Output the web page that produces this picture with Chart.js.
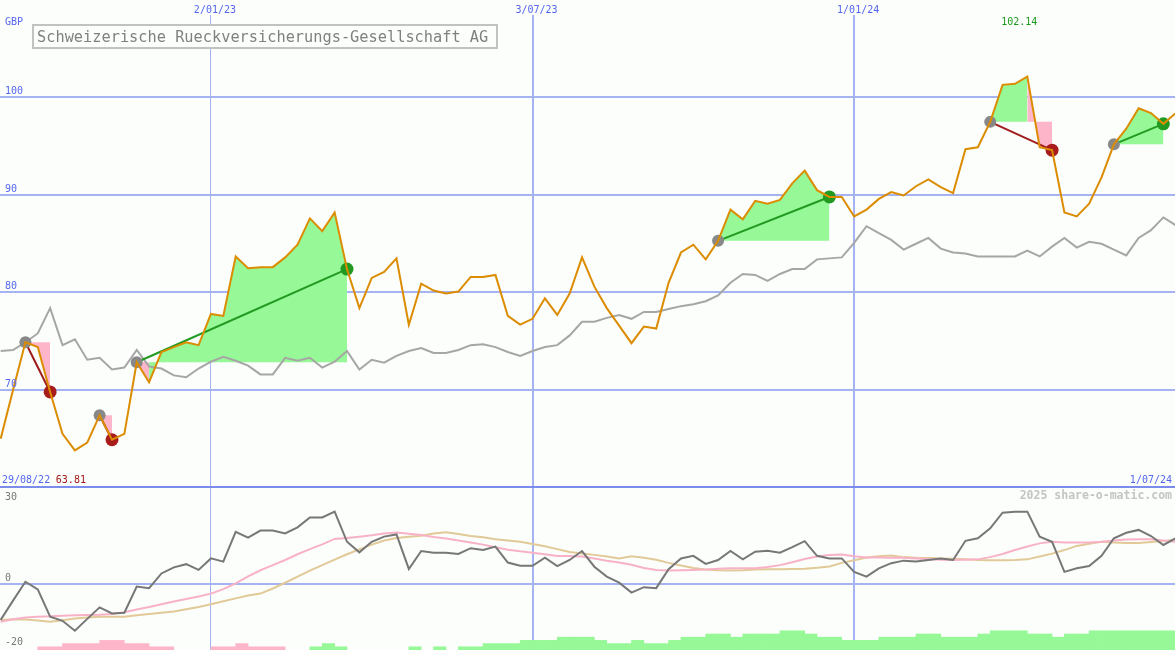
<!DOCTYPE html>
<html>
<head>
<meta charset="utf-8">
<script src="https://cdn.jsdelivr.net/npm/chart.js@4.4.0/dist/chart.umd.min.js"></script>
<style>
html,body{margin:0;padding:0;background:#fbfefb;overflow:hidden}
#wrap{position:relative;width:1175px;height:650px}
canvas{display:block}
</style>
</head>
<body>
<div id="wrap"><canvas id="c" width="1175" height="650"></canvas></div>
<script>
// ---- data (weekly, first week = 5/09/22 area) ----
const firstWeek = 1;
const price = [65.0, 70.0, 74.9, 74.4, 69.8, 65.5, 63.81, 64.6, 67.4, 64.9,
 65.5, 72.85, 70.8, 73.9, 74.4, 74.9, 74.6, 77.8, 77.6, 83.7,
 82.5, 82.6, 82.6, 83.6, 84.9, 87.6, 86.3, 88.2, 82.4, 78.4,
 81.5, 82.1, 83.5, 76.7, 80.9, 80.2, 79.9, 80.1, 81.6, 81.6,
 81.8, 77.6, 76.7, 77.3, 79.4, 77.7, 79.9, 83.6, 80.6, 78.4,
 76.6, 74.8, 76.5, 76.3, 81.0, 84.1, 84.9, 83.4, 85.3, 88.5,
 87.5, 89.4, 89.1, 89.5, 91.2, 92.5, 90.5, 89.8, 89.8, 87.8,
 88.5, 89.6, 90.3, 89.95, 90.9, 91.6, 90.8, 90.2, 94.7, 94.9,
 97.5, 101.3, 101.4, 102.14, 94.9, 94.6, 88.2, 87.8, 89.1, 91.8,
 95.2, 96.8, 98.9, 98.4, 97.3, 98.4];
const indexLine = [74.0, 74.1, 74.9, 75.8, 78.4, 74.6, 75.2, 73.1, 73.3, 72.1,
 72.3, 74.1, 72.4, 72.2, 71.5, 71.3, 72.2, 72.9, 73.4, 73.0,
 72.5, 71.6, 71.6, 73.3, 73.0, 73.3, 72.3, 72.9, 74.0, 72.1,
 73.1, 72.8, 73.5, 74.0, 74.3, 73.8, 73.8, 74.1, 74.6, 74.7,
 74.4, 73.9, 73.5, 74.0, 74.4, 74.6, 75.6, 77.0, 77.0, 77.4,
 77.7, 77.3, 78.0, 78.0, 78.3, 78.6, 78.8, 79.1, 79.7, 81.0,
 81.9, 81.8, 81.2, 81.9, 82.4, 82.4, 83.4, 83.5, 83.6, 85.1,
 86.8, 86.1, 85.4, 84.4, 85.0, 85.6, 84.5, 84.1, 84.0, 83.7,
 83.7, 83.7, 83.7, 84.3, 83.7, 84.7, 85.6, 84.6, 85.2, 85.0,
 84.4, 83.8, 85.6, 86.4, 87.7, 86.9];
const momentum = [-11.2, -5.2, 0.7, -1.7, -10.2, -11.5, -14.6, -10.9, -7.3, -9.2,
 -9.0, -0.8, -1.3, 3.3, 5.2, 6.2, 4.4, 8.0, 7.0, 16.3,
 14.5, 16.7, 16.7, 15.8, 17.7, 20.8, 20.8, 22.6, 13.2, 9.9,
 13.2, 14.8, 15.5, 4.7, 10.3, 9.8, 9.8, 9.4, 11.2, 10.6,
 11.7, 6.7, 5.7, 5.7, 8.2, 5.6, 7.5, 10.3, 5.4, 2.3,
 0.4, -2.7, -1.0, -1.3, 4.6, 8.0, 8.8, 6.3, 7.5, 10.3,
 7.7, 10.1, 10.4, 9.8, 11.5, 13.4, 8.8, 8.0, 8.0, 3.8,
 2.3, 4.9, 6.5, 7.3, 7.0, 7.5, 8.0, 7.5, 13.5, 14.3,
 17.4, 22.3, 22.6, 22.6, 14.8, 13.2, 3.8, 4.9, 5.6, 8.8,
 14.3, 16.0, 16.9, 15.0, 12.2, 14.3];
const avgFast = [-11.8, -11.0, -10.5, -10.2, -10.1, -9.9, -9.8, -9.7, -9.6, -9.4,
 -8.8, -8.0, -7.2, -6.3, -5.5, -4.7, -3.9, -3.0, -1.6, 0.2,
 2.4, 4.3, 5.9, 7.5, 9.3, 10.9, 12.4, 14.1, 14.4, 14.8,
 15.2, 15.8, 16.1, 15.7, 15.3, 14.7, 14.2, 13.6, 13.0, 12.3,
 11.5, 10.7, 10.2, 9.8, 9.3, 8.75, 8.75, 8.6, 8.0, 7.3,
 6.7, 6.0, 5.0, 4.4, 4.2, 4.3, 4.4, 4.5, 4.8, 4.9,
 4.9, 4.9, 5.3, 5.9, 6.8, 7.8, 8.6, 9.1, 9.2, 8.7,
 8.3, 8.25, 8.2, 8.2, 8.0, 7.8, 7.6, 7.5, 7.6, 7.7,
 8.4, 9.4, 10.6, 11.7, 12.7, 13.2, 13.0, 13.0, 13.0, 13.2,
 13.6, 13.9, 14.0, 14.0, 13.6, 13.2];
const avgSlow = [-11.25, -11.0, -11.1, -11.4, -11.8, -11.3, -10.8, -10.5, -10.2, -10.2,
 -10.2, -9.8, -9.4, -9.0, -8.6, -7.9, -7.2, -6.3, -5.4, -4.5,
 -3.6, -3.0, -1.4, 0.4, 2.3, 4.2, 5.9, 7.6, 9.3, 10.8,
 12.3, 13.6, 14.4, 14.8, 15.1, 15.8, 16.2, 15.6, 15.0, 14.6,
 14.0, 13.6, 13.2, 12.5, 11.8, 10.9, 10.0, 9.5, 9.1, 8.6,
 8.0, 8.7, 8.2, 7.6, 6.6, 5.8, 5.0, 4.5, 4.3, 4.2,
 4.3, 4.5, 4.6, 4.6, 4.7, 4.8, 5.1, 5.5, 6.6, 7.4,
 8.3, 8.7, 8.9, 8.4, 8.2, 8.1, 8.0, 7.9, 7.7, 7.5,
 7.4, 7.4, 7.5, 7.7, 8.6, 9.5, 10.6, 11.9, 12.6, 13.2,
 13.0, 12.8, 12.8, 13.1, 13.4, 13.9];
const signalBars = [0,0,0,-1,-1,-2,-2,-2,-3,-3,
 -2,-2,-1,-1,0,0,0,-1,-1,-2,
 -1,-1,-1,0,0,1,2,1,0,0,
 0,0,0,1,0,1,0,1,1,2,
 2,2,3,3,3,4,4,4,3,2,
 2,3,2,2,3,4,4,5,5,4,
 5,5,5,6,6,5,4,4,3,3,
 3,4,4,4,5,5,4,4,4,5,
 6,6,6,5,5,4,5,5,6,6,
 6,6,6,6,6,6];
const tradeEntry = [3, 9, 12, 59, 81, 91];
const tradeExit  = [5, 10, 29, 68, 86, 95];
const xTickWeeks  = [18, 44, 70];
const xTickLabels = ['2/01/23', '3/07/23', '1/01/24'];
const priceTicks = [70, 80, 90, 100];
const oscTicks = [0];
const oscLabels = [30, 0, -20];
const panelSplit = 60;
const currency = 'GBP';
const titleText = 'Schweizerische Rueckversicherungs-Gesellschaft AG';
const startLabel = '29/08/22';
const endLabel = '1/07/24';
const watermark = '2025 share-o-matic.com';

// ---- view ----
const X_MIN = 0.946, X_MAX = 95.94;
const Y_MIN = 43.333, Y_MAX = 110;
const Y2_MIN = -20.625, Y2_MAX = 182.5;
const BG = '#fbfefb';
const GREEN_FILL = '#96f896', PINK_FILL = '#fdb6c9';
const GRID = '#a5b3f2';
const MONO = '"DejaVu Sans Mono", monospace';

const weeks = price.map((_, i) => firstWeek + i);
const pts = arr => arr.map((v, i) => ({x: weeks[i], y: v}));
const priceAt = w => price[w - firstWeek];

const datasets = [];
datasets.push({type:'line', data: pts(price), borderColor:'#dc8c00', borderWidth:2,
  pointRadius:0, tension:0, order:0, yAxisID:'y'});
datasets.push({type:'line', data: tradeEntry.map(w => ({x:w, y:priceAt(w)})), showLine:false,
  pointRadius:6, pointBackgroundColor:'#888888', pointBorderWidth:0, order:1, yAxisID:'y'});
datasets.push({type:'line', data: tradeExit.map(w => ({x:w, y:priceAt(w)})), showLine:false,
  pointRadius:6.5, pointBorderWidth:0, order:1, yAxisID:'y',
  pointBackgroundColor: tradeExit.map((w, i) => priceAt(w) >= priceAt(tradeEntry[i]) ? '#229a22' : '#a81c1c')});
tradeEntry.forEach((e, i) => {
  const x = tradeExit[i];
  const win = priceAt(x) >= priceAt(e);
  datasets.push({type:'line', data:[{x:e, y:priceAt(e)}, {x:x, y:priceAt(x)}],
    borderColor: win ? '#229a22' : '#a01c1c', borderWidth:2, pointRadius:0, order:2, yAxisID:'y'});
});
datasets.push({type:'line', data: pts(indexLine), borderColor:'#a6a6a6', borderWidth:2,
  pointRadius:0, tension:0, order:5, yAxisID:'y'});
tradeEntry.forEach((e, i) => {
  const x = tradeExit[i];
  const level = priceAt(e);
  const d = [];
  for (let w = e; w <= x; w++) d.push({x:w, y:priceAt(w)});
  datasets.push({type:'line', data:d, borderWidth:0, borderColor:'rgba(0,0,0,0)', pointRadius:0,
    backgroundColor: GREEN_FILL, fill:{value: level}, order:8, yAxisID:'y',
    segment:{backgroundColor: c => c.p1.parsed.y >= level ? GREEN_FILL : PINK_FILL}});
});
datasets.push({type:'line', data: pts(avgSlow), borderColor:'#e2c998', borderWidth:2, pointRadius:0, order:5, yAxisID:'y2'});
datasets.push({type:'line', data: pts(avgFast), borderColor:'#f8b2c8', borderWidth:2, pointRadius:0, order:4, yAxisID:'y2'});
datasets.push({type:'line', data: pts(momentum), borderColor:'#777777', borderWidth:2, pointRadius:0, order:3, yAxisID:'y2'});
const barData = [], barColors = [];
signalBars.forEach((n, i) => {
  if (!n) return;
  barData.push({x: weeks[i] + 0.5, y: [Y2_MIN, Y2_MIN + Math.abs(n)]});
  barColors.push(n > 0 ? GREEN_FILL : PINK_FILL);
});
datasets.push({type:'bar', data: barData, backgroundColor: barColors, borderWidth:0,
  barPercentage:1, categoryPercentage:1, grouped:false, order:9, yAxisID:'y2', xAxisID:'x'});

const textPlugin = {
  id: 'texts',
  afterDraw(chart) {
    const {ctx, scales:{x, y, y2}} = chart;
    ctx.save();
    ctx.textBaseline = 'alphabetic';
    ctx.font = '10px ' + MONO;
    // top date labels
    ctx.textAlign = 'center';
    xTickWeeks.forEach((w, i) => {
      const px = x.getPixelForValue(w) + 4;
      const tw = ctx.measureText(xTickLabels[i]).width;
      ctx.fillStyle = BG;
      ctx.fillRect(px - tw / 2 - 3, 0, tw + 6, 15);
      ctx.fillStyle = '#5566ee';
      ctx.fillText(xTickLabels[i], px, 13);
    });
    // price axis labels
    ctx.textAlign = 'left';
    ctx.fillStyle = '#5566ee';
    ctx.fillText(currency, 5, 25);
    priceTicks.forEach(v => ctx.fillText(String(v), 5, y.getPixelForValue(v) - 3));
    ctx.fillText(startLabel, 2, 483);
    ctx.textAlign = 'right';
    ctx.fillText(endLabel, 1172, 483);
    // min / max
    let iMin = 0, iMax = 0;
    price.forEach((v, i) => { if (v < price[iMin]) iMin = i; if (v > price[iMax]) iMax = i; });
    ctx.textAlign = 'center';
    ctx.fillStyle = '#a01818';
    ctx.fillText(price[iMin].toFixed(2), x.getPixelForValue(weeks[iMin]) - 4, 483);
    ctx.fillStyle = '#1a9a1a';
    ctx.fillText(price[iMax].toFixed(2), x.getPixelForValue(weeks[iMax]) - 8, 25);
    // oscillator labels
    ctx.textAlign = 'left';
    ctx.fillStyle = '#777777';
    oscLabels.forEach(v => {
      const b = Math.min(646, Math.max(499.5, y2.getPixelForValue(v) - 3));
      ctx.fillText(String(v), 5, b);
    });
    // watermark
    ctx.font = 'bold 11.5px ' + MONO;
    ctx.textAlign = 'right';
    ctx.fillStyle = '#c4c4c4';
    ctx.fillText(watermark, 1172, 499);
    // title box
    ctx.fillStyle = BG;
    ctx.fillRect(33, 25, 464, 23);
    ctx.lineWidth = 2;
    ctx.strokeStyle = '#c2c2c2';
    ctx.strokeRect(33, 25, 464, 23);
    ctx.font = '15.3px ' + MONO;
    ctx.textAlign = 'left';
    ctx.fillStyle = '#808080';
    ctx.fillText(titleText, 37, 42);
    ctx.restore();
  }
};

new Chart(document.getElementById('c'), {
  type: 'line',
  data: { datasets },
  options: {
    responsive: false,
    animation: false,
    devicePixelRatio: 1,
    events: [],
    layout: { padding: 0, autoPadding: false },
    plugins: { legend: {display:false}, tooltip: {enabled:false}, title: {display:false} },
    scales: {
      x: {
        type: 'linear', min: X_MIN, max: X_MAX, offset: false, position: 'bottom',
        ticks: {display:false}, border: {display:false},
        grid: {offset:false, drawTicks:false, color: GRID, lineWidth: c => c.index === 0 ? 1 : 2},
        afterBuildTicks: ax => { ax.ticks = xTickWeeks.map(v => ({value: v})); }
      },
      y: {
        type: 'linear', min: Y_MIN, max: Y_MAX, position: 'left',
        ticks: {display:false}, border: {display:false},
        grid: {drawTicks:false, lineWidth: 2,
          color: c => (c.tick && c.tick.value === panelSplit) ? '#7c8cec' : GRID},
        afterBuildTicks: ax => { ax.ticks = [panelSplit, ...priceTicks].map(v => ({value: v})); }
      },
      y2: {
        type: 'linear', min: Y2_MIN, max: Y2_MAX, position: 'left', beginAtZero: false,
        ticks: {display:false}, border: {display:false},
        grid: {drawTicks:false, lineWidth: 2, color: GRID},
        afterBuildTicks: ax => { ax.ticks = oscTicks.map(v => ({value: v})); }
      }
    }
  },
  plugins: [textPlugin]
});
</script>
</body>
</html>
